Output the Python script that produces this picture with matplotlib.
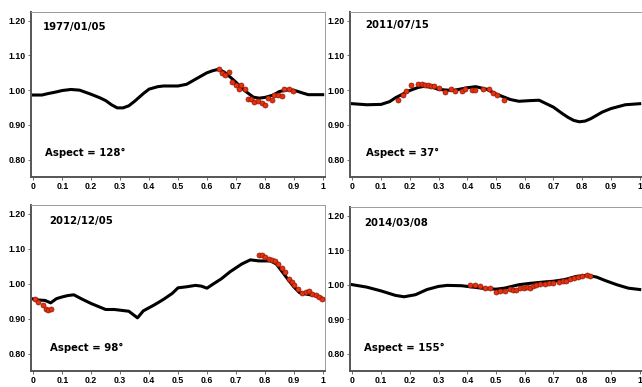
import matplotlib
matplotlib.use("Agg")
import matplotlib.pyplot as plt

# ---------------- data ----------------
titles = ["1977/01/05", "2011/07/15", "2012/12/05", "2014/03/08"]
aspects = ["Aspect = 128°", "Aspect = 37°", "Aspect = 98°", "Aspect = 155°"]

# model curves (phase, relative flux)
m1_x = [0, 0.03, 0.05, 0.08, 0.1, 0.13, 0.16, 0.2, 0.23, 0.25, 0.27, 0.29, 0.31, 0.33, 0.35,
        0.38, 0.4, 0.43, 0.45, 0.5, 0.53, 0.57, 0.6, 0.62, 0.64, 0.66, 0.68, 0.7, 0.73,
        0.76, 0.78, 0.8, 0.83, 0.85, 0.88, 0.9, 0.93, 0.95, 1.0]
m1_y = [0.986, 0.986, 0.990, 0.995, 0.999, 1.002, 1.000, 0.988, 0.978, 0.970, 0.958, 0.949,
        0.949, 0.955, 0.968, 0.990, 1.003, 1.010, 1.012, 1.012, 1.017, 1.036, 1.050, 1.056,
        1.060, 1.052, 1.038, 1.023, 0.999, 0.980, 0.977, 0.979, 0.986, 0.996, 1.001, 1.000,
        0.992, 0.987, 0.987]

m2_x = [0, 0.05, 0.1, 0.13, 0.15, 0.2, 0.23, 0.25, 0.28, 0.3, 0.35, 0.4, 0.43, 0.47, 0.5,
        0.55, 0.58, 0.62, 0.65, 0.7, 0.73, 0.75, 0.77, 0.79, 0.81, 0.83, 0.87, 0.9, 0.95, 1.0]
m2_y = [0.961, 0.958, 0.959, 0.967, 0.978, 0.999, 1.008, 1.011, 1.008, 1.002, 0.999, 1.007,
        1.010, 1.002, 0.989, 0.973, 0.968, 0.970, 0.971, 0.951, 0.933, 0.922, 0.913, 0.909,
        0.911, 0.918, 0.937, 0.947, 0.958, 0.961]

m3_x = [0, 0.02, 0.04, 0.06, 0.08, 0.1, 0.12, 0.14, 0.17, 0.2, 0.25, 0.28, 0.3, 0.33, 0.36,
        0.38, 0.42, 0.45, 0.48, 0.5, 0.53, 0.56, 0.58, 0.6, 0.62, 0.65, 0.68, 0.72, 0.75,
        0.78, 0.82, 0.84, 0.86, 0.88, 0.9, 0.92, 0.95, 0.97, 1.0]
m3_y = [0.956, 0.953, 0.952, 0.945, 0.957, 0.962, 0.966, 0.968, 0.955, 0.943, 0.926, 0.926,
        0.924, 0.921, 0.902, 0.922, 0.940, 0.955, 0.972, 0.988, 0.991, 0.995, 0.993, 0.987,
        0.998, 1.014, 1.034, 1.056, 1.068, 1.065, 1.065, 1.056, 1.034, 1.012, 0.991, 0.974,
        0.969, 0.967, 0.958]

m4_x = [0, 0.05, 0.1, 0.15, 0.18, 0.22, 0.26, 0.3, 0.33, 0.38, 0.42, 0.46, 0.5, 0.53, 0.58,
        0.62, 0.67, 0.7, 0.74, 0.78, 0.82, 0.85, 0.88, 0.92, 0.96, 1.0]
m4_y = [1.000, 0.993, 0.982, 0.969, 0.965, 0.971, 0.986, 0.995, 0.998, 0.997, 0.993, 0.989,
        0.987, 0.990, 1.000, 1.004, 1.008, 1.010, 1.015, 1.024, 1.027, 1.022, 1.012, 1.000,
        0.990, 0.986]

# observations
o1_x = [0.640, 0.652, 0.661, 0.675, 0.687, 0.699, 0.710, 0.719, 0.733, 0.742, 0.752, 0.762,
        0.775, 0.789, 0.800, 0.812, 0.824, 0.833, 0.847, 0.858, 0.868, 0.884, 0.896]
o1_y = [1.060, 1.050, 1.043, 1.052, 1.024, 1.014, 1.002, 1.014, 1.002, 0.975, 0.975, 0.966,
        0.970, 0.963, 0.957, 0.976, 0.973, 0.985, 0.986, 0.983, 1.004, 1.004, 0.997]

o2_x = [0.160, 0.176, 0.186, 0.204, 0.230, 0.242, 0.253, 0.265, 0.274, 0.286, 0.300, 0.321,
        0.344, 0.358, 0.381, 0.393, 0.416, 0.428, 0.456, 0.474, 0.491, 0.505, 0.528]
o2_y = [0.973, 0.985, 0.997, 1.014, 1.018, 1.018, 1.016, 1.016, 1.011, 1.011, 1.007, 0.994,
        1.002, 0.997, 0.997, 1.002, 1.000, 1.000, 1.002, 1.004, 0.992, 0.985, 0.973]

o3_x = [0.005, 0.017, 0.033, 0.043, 0.052, 0.060,
        0.779, 0.791, 0.802, 0.814, 0.826, 0.835, 0.847, 0.858, 0.870, 0.884, 0.893, 0.901,
        0.913, 0.928, 0.942, 0.951, 0.963, 0.977, 0.988, 0.997]
o3_y = [0.955, 0.947, 0.940, 0.927, 0.925, 0.928,
        1.083, 1.083, 1.075, 1.070, 1.068, 1.065, 1.056, 1.044, 1.034, 1.013, 1.006, 0.995,
        0.986, 0.972, 0.976, 0.979, 0.969, 0.967, 0.963, 0.957]

o4_x = [0.410, 0.428, 0.443, 0.462, 0.480, 0.500, 0.515, 0.530, 0.547, 0.559, 0.570, 0.584,
        0.596, 0.608, 0.619, 0.629, 0.640, 0.654, 0.671, 0.686, 0.700, 0.718, 0.733, 0.745,
        0.759, 0.770, 0.784, 0.800, 0.815, 0.828]
o4_y = [0.998, 0.998, 0.996, 0.990, 0.989, 0.979, 0.981, 0.981, 0.988, 0.986, 0.984, 0.990,
        0.989, 0.993, 0.990, 0.996, 1.000, 1.003, 1.003, 1.006, 1.006, 1.008, 1.010, 1.012,
        1.017, 1.019, 1.022, 1.024, 1.027, 1.026]

yticks = [0.80, 0.90, 1.00, 1.10, 1.20]
ytick_labels = ["0.80", "0.90", "1.00", "1.10", "1.20"]
xticks = [0, 0.1, 0.2, 0.3, 0.4, 0.5, 0.6, 0.7, 0.8, 0.9, 1.0]
xtick_labels = ["0", "0.1", "0.2", "0.3", "0.4", "0.5", "0.6", "0.7", "0.8", "0.9", "1"]

models = [(m1_x, m1_y), (m2_x, m2_y), (m3_x, m3_y), (m4_x, m4_y)]
obs = [(o1_x, o1_y), (o2_x, o2_y), (o3_x, o3_y), (o4_x, o4_y)]

# ---------------- layout ----------------
W, H = 642, 387
fig = plt.figure(figsize=(W / 100, H / 100), dpi=100)
positions = [
    (31, 12, 325, 177),
    (350, 12, 642, 177),
    (31, 205, 325, 371),
    (350, 207, 642, 371),
]
title_pos = [(0.034, 1.182), (0.044, 1.187), (0.056, 1.178), (0.041, 1.180)]
aspect_pos = [(0.040, 0.818), (0.048, 0.819), (0.056, 0.816), (0.041, 0.818)]

for i, (l, t, r, b) in enumerate(positions):
    ax = fig.add_axes([l / W, 1 - b / H, (r - l) / W, (b - t) / H])
    mx, my = models[i]
    ox, oy = obs[i]
    ax.plot(mx, my, color="black", lw=2.2, solid_joinstyle="round", zorder=2)
    ax.plot(ox, oy, "o", ms=3.6, mfc="#e8300e", mec="#8a1a08", mew=0.5, zorder=3)
    ax.set_xlim(-0.008, 1.008)
    ax.set_ylim(0.75, 1.225)
    ax.set_yticks(yticks)
    ax.set_yticklabels(ytick_labels)
    ax.set_xticks(xticks)
    ax.set_xticklabels(xtick_labels)
    for lab in ax.get_xticklabels() + ax.get_yticklabels():
        lab.set_fontfamily("Liberation Sans")
        lab.set_fontweight("bold")
        lab.set_fontsize(6.3)
    ax.tick_params(axis="both", length=2, width=0.6, color="#555555", pad=2)
    ax.tick_params(axis="x", pad=1.5)
    for s in ["left", "bottom"]:
        ax.spines[s].set_color("#555555")
        ax.spines[s].set_linewidth(1.4)
    for s in ["top", "right"]:
        ax.spines[s].set_color("#9a9a9a")
        ax.spines[s].set_linewidth(0.7)
    tx, ty = title_pos[i]
    ax.text(tx, ty, titles[i], fontsize=7.3, fontweight="bold", family="DejaVu Sans",
            va="center", ha="left")
    axp, ayp = aspect_pos[i]
    ax.text(axp, ayp, aspects[i], fontsize=7.3, fontweight="bold", family="DejaVu Sans",
            va="center", ha="left")

fig.savefig("out.png", dpi=100)
